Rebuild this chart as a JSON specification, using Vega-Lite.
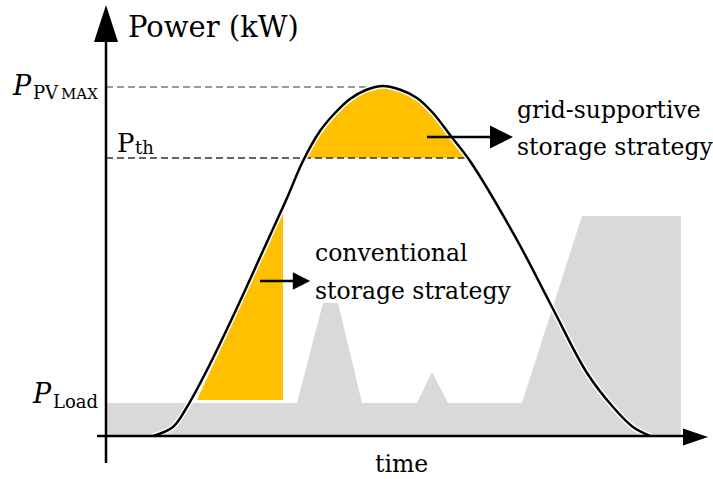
{
  "$schema": "https://vega.github.io/schema/vega-lite/v6.json",
  "width": 713,
  "height": 479,
  "autosize": {"type": "none"},
  "padding": 0,
  "config": {"view": {"stroke": null}, "font": "DejaVu Serif", "text": {"font": "DejaVu Serif"}},
  "datasets": {
    "curve": [
      {"t": 47, "P": 0}, {"t": 67, "P": 9}, {"t": 81, "P": 29}, {"t": 101, "P": 66},
      {"t": 121, "P": 107}, {"t": 141, "P": 150}, {"t": 161, "P": 194}, {"t": 181, "P": 238},
      {"t": 197, "P": 275}, {"t": 214, "P": 305}, {"t": 229, "P": 323}, {"t": 244, "P": 337},
      {"t": 260, "P": 346}, {"t": 277, "P": 350}, {"t": 295, "P": 346}, {"t": 311, "P": 338},
      {"t": 327, "P": 323}, {"t": 344, "P": 301}, {"t": 364, "P": 275}, {"t": 411, "P": 196},
      {"t": 446, "P": 129}, {"t": 481, "P": 63}, {"t": 507, "P": 29}, {"t": 527, "P": 9}, {"t": 544, "P": 0}
    ],
    "load": [
      {"t": 0, "P": 33}, {"t": 191, "P": 33}, {"t": 217, "P": 133}, {"t": 232, "P": 133},
      {"t": 256, "P": 33}, {"t": 311, "P": 33}, {"t": 326, "P": 64}, {"t": 342, "P": 33},
      {"t": 416, "P": 33}, {"t": 476, "P": 220}, {"t": 575, "P": 220}
    ],
    "conv": [
      {"t": 91, "P": 36, "B": 36}, {"t": 177, "P": 223, "B": 36}
    ],
    "grid": [
      {"t": 200, "P": 278, "B": 278}, {"t": 214, "P": 305, "B": 278}, {"t": 229, "P": 323, "B": 278},
      {"t": 244, "P": 337, "B": 278}, {"t": 260, "P": 346, "B": 278}, {"t": 277, "P": 350, "B": 278},
      {"t": 295, "P": 346, "B": 278}, {"t": 311, "P": 338, "B": 278}, {"t": 327, "P": 323, "B": 278},
      {"t": 344, "P": 301, "B": 278}, {"t": 362, "P": 278, "B": 278}
    ],
    "dashes": [
      {"line": "PVMAX", "t": 0, "t2": 277, "P": 349},
      {"line": "Pth", "t": 0, "t2": 364, "P": 278}
    ],
    "axes": [
      {"t": 0, "t2": 0, "P": -27, "P2": 400},
      {"t": -9, "t2": 585, "P": 0, "P2": 0}
    ],
    "pointers": [
      {"t": 321, "t2": 386, "P": 299},
      {"t": 154, "t2": 190, "P": 155}
    ],
    "heads": [
      {"kind": "up", "t": 0, "P": 412.5},
      {"kind": "xaxis", "t": 589.5, "P": -1},
      {"kind": "big", "t": 395.5, "P": 299},
      {"kind": "small", "t": 195.5, "P": 155}
    ],
    "labels": [
      {"role": "title", "t": 22, "P": 399, "text": "Power (kW)"},
      {"role": "body", "t": 269, "P": -36, "text": "time"},
      {"role": "body", "t": 411, "P": 318, "text": "grid-supportive"},
      {"role": "body", "t": 411, "P": 281, "text": "storage strategy"},
      {"role": "body", "t": 209, "P": 175, "text": "conventional"},
      {"role": "body", "t": 209, "P": 137, "text": "storage strategy"},
      {"role": "pital", "t": -93, "P": 341, "text": "P"},
      {"role": "pital", "t": -73, "P": 33, "text": "P"},
      {"role": "pup", "t": 11, "P": 284, "text": "P"},
      {"role": "sub", "t": -73, "P": 337, "text": "PV"},
      {"role": "subsmall", "t": -45, "P": 337, "text": "MAX"},
      {"role": "sub", "t": 29, "P": 282, "text": "th"},
      {"role": "sub", "t": -53, "P": 28, "text": "Load"}
    ]
  },
  "encoding": {
    "x": {"field": "t", "type": "quantitative", "scale": {"domain": [-106, 607], "nice": false, "zero": false}, "axis": null},
    "y": {"field": "P", "type": "quantitative", "scale": {"domain": [-43, 436], "nice": false, "zero": false}, "axis": null}
  },
  "layer": [
    {"data": {"name": "load"}, "mark": {"type": "area", "color": "#D9D9D9", "opacity": 1}, "encoding": {"y2": {"datum": 0}}},
    {"data": {"name": "conv"}, "mark": {"type": "area", "color": "#FFC000", "opacity": 1}, "encoding": {"y2": {"field": "B"}}},
    {"data": {"name": "grid"}, "mark": {"type": "area", "color": "#FFC000", "opacity": 1, "interpolate": "catmull-rom"}, "encoding": {"y2": {"field": "B"}}},
    {"data": {"name": "dashes"}, "mark": {"type": "rule", "strokeDash": [7, 4], "strokeWidth": 1.5},
      "encoding": {"x2": {"field": "t2"}, "color": {"field": "line", "type": "nominal", "scale": {"domain": ["PVMAX", "Pth"], "range": ["#7a7a7a", "#333333"]}, "legend": null}}},
    {"data": {"name": "curve"}, "mark": {"type": "line", "color": "white", "strokeWidth": 5.5, "interpolate": "catmull-rom"}, "encoding": {}},
    {"data": {"name": "curve"}, "mark": {"type": "line", "color": "black", "strokeWidth": 2.5, "interpolate": "catmull-rom"}, "encoding": {}},
    {"data": {"name": "axes"}, "mark": {"type": "rule", "color": "black", "strokeWidth": 2.5}, "encoding": {"x2": {"field": "t2"}, "y2": {"field": "P2"}}},
    {"data": {"name": "pointers"}, "mark": {"type": "rule", "color": "black", "strokeWidth": 2.5}, "encoding": {"x2": {"field": "t2"}}},
    {"data": {"name": "heads"}, "transform": [{"filter": "datum.kind === 'up'"}],
      "mark": {"type": "point", "shape": "M0,-1L0.65,1L-0.65,1Z", "size": 1369, "filled": true, "color": "black", "opacity": 1, "strokeWidth": 0}},
    {"data": {"name": "heads"}, "transform": [{"filter": "datum.kind === 'xaxis'"}],
      "mark": {"type": "point", "shape": "M-1,-0.68L1,0L-1,0.68Z", "size": 625, "filled": true, "color": "black", "opacity": 1, "strokeWidth": 0}},
    {"data": {"name": "heads"}, "transform": [{"filter": "datum.kind === 'big'"}],
      "mark": {"type": "point", "shape": "M-1,-1L1,0L-1,1Z", "size": 529, "filled": true, "color": "black", "opacity": 1, "strokeWidth": 0}},
    {"data": {"name": "heads"}, "transform": [{"filter": "datum.kind === 'small'"}],
      "mark": {"type": "point", "shape": "M-1,-1L1,0L-1,1Z", "size": 300, "filled": true, "color": "black", "opacity": 1, "strokeWidth": 0}},
    {"data": {"name": "labels"}, "transform": [{"filter": "datum.role === 'title'"}],
      "mark": {"type": "text", "align": "left", "baseline": "alphabetic", "fontSize": 29, "font": "DejaVu Serif", "color": "black"}, "encoding": {"text": {"field": "text"}}},
    {"data": {"name": "labels"}, "transform": [{"filter": "datum.role === 'body'"}],
      "mark": {"type": "text", "align": "left", "baseline": "alphabetic", "fontSize": 23.5, "font": "DejaVu Serif", "color": "black"}, "encoding": {"text": {"field": "text"}}},
    {"data": {"name": "labels"}, "transform": [{"filter": "datum.role === 'pital'"}],
      "mark": {"type": "text", "align": "left", "baseline": "alphabetic", "fontSize": 27, "fontStyle": "italic", "font": "DejaVu Serif", "color": "black"}, "encoding": {"text": {"field": "text"}}},
    {"data": {"name": "labels"}, "transform": [{"filter": "datum.role === 'pup'"}],
      "mark": {"type": "text", "align": "left", "baseline": "alphabetic", "fontSize": 26, "font": "DejaVu Serif", "color": "black"}, "encoding": {"text": {"field": "text"}}},
    {"data": {"name": "labels"}, "transform": [{"filter": "datum.role === 'sub'"}],
      "mark": {"type": "text", "align": "left", "baseline": "alphabetic", "fontSize": 18, "font": "DejaVu Serif", "color": "black"}, "encoding": {"text": {"field": "text"}}},
    {"data": {"name": "labels"}, "transform": [{"filter": "datum.role === 'subsmall'"}],
      "mark": {"type": "text", "align": "left", "baseline": "alphabetic", "fontSize": 15, "font": "DejaVu Serif", "color": "black"}, "encoding": {"text": {"field": "text"}}}
  ]
}
